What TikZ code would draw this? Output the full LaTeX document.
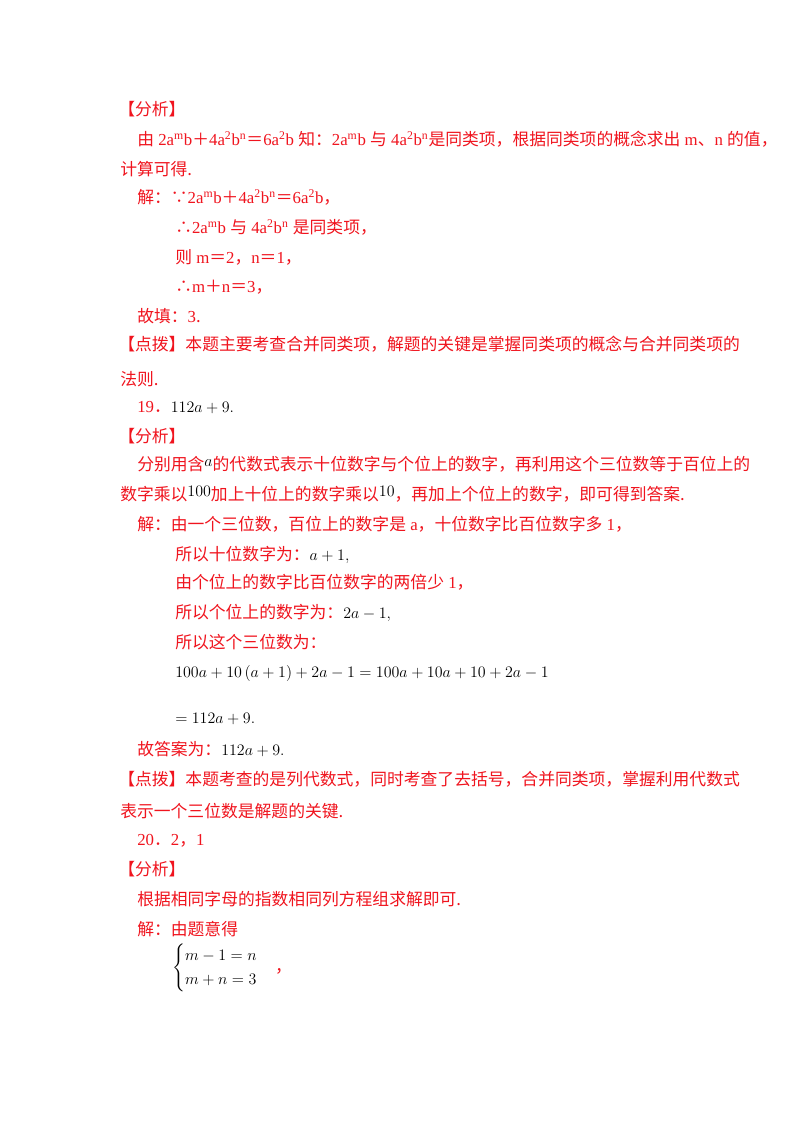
\documentclass[tikz,border=0pt]{standalone}
\usepackage{amsmath}
\usepackage{fontspec}
\setmainfont{Noto Sans CJK SC}
\newfontfamily\lat{Liberation Serif}
\definecolor{rd}{RGB}{240,20,30}
\newcommand{\Lt}[1]{{\lat #1}}
\newcommand{\sups}[1]{\textsuperscript{\lat #1}}
\newcommand{\mth}[1]{{\color{black}$#1$}}
\begin{document}
\begin{tikzpicture}[x=0.75pt,y=-0.75pt,
  t/.style={anchor=base west,inner sep=0pt,text=rd,font=\fontsize{12.6}{15}\selectfont}]
\useasboundingbox[fill=white] (0,0) rectangle (800,1132);
\node[t] (l1) at (118,115) {【分析】};
\node[t] (l2) at (137,145) {由\Lt{ 2a\sups{m}b}＋\Lt{4a\sups{2}b\sups{n}}＝\Lt{6a\sups{2}b }知：\Lt{2a\sups{m}b }与\Lt{ 4a\sups{2}b\sups{n}}是同类项，根据同类项的概念求出\Lt{ m}、\Lt{n }的值，};
\node[t] (l3) at (120,175) {计算可得.};
\node[t] (l4) at (137,203) {解：∵\Lt{2a\sups{m}b}＋\Lt{4a\sups{2}b\sups{n}}＝\Lt{6a\sups{2}b}，};
\node[t] (l5) at (175,233) {∴\Lt{2a\sups{m}b }与\Lt{ 4a\sups{2}b\sups{n} }是同类项，};
\node[t] (l6) at (175,263) {则\Lt{ m}＝\Lt{2}，\Lt{n}＝\Lt{1}，};
\node[t] (l7) at (175,292) {∴\Lt{m}＋\Lt{n}＝\Lt{3}，};
\node[t] (l8) at (137,322) {故填：\Lt{3}.};
\node[t] (l9) at (118,350) {【点拨】本题主要考查合并同类项，解题的关键是掌握同类项的概念与合并同类项的};
\node[t] (l10) at (120,385) {法则.};
\node[t] (l11) at (137,412) {\Lt{19}．\mth{112a+9.}};
\node[t] (l12) at (118,442) {【分析】};
\node[t] (l13) at (137,470) {分别用含\raisebox{3pt}{\mth{a}}的代数式表示十位数字与个位上的数字，再利用这个三位数等于百位上的};
\node[t] (l14) at (120,500) {数字乘以\raisebox{3pt}{\mth{100}}加上十位上的数字乘以\raisebox{3pt}{\mth{10}}，再加上个位上的数字，即可得到答案.};
\node[t] (l15) at (137,530) {解：由一个三位数，百位上的数字是\Lt{ a}，十位数字比百位数字多\Lt{ 1}，};
\node[t] (l16) at (175,560) {所以十位数字为：\mth{a+1,}};
\node[t] (l17) at (175,588) {由个位上的数字比百位数字的两倍少\Lt{ 1}，};
\node[t] (l18) at (175,618) {所以个位上的数字为：\mth{2a-1,}};
\node[t] (l19) at (175,648) {所以这个三位数为：};
\node[t] (l20) at (175,677) {\mth{100a+10\left(a+1\right)+2a-1=100a+10a+10+2a-1}};
\node[t] (l21) at (175,723) {\mth{=112a+9.}};
\node[t] (l22) at (137,755) {故答案为：\mth{112a+9.}};
\node[t] (l23) at (118,785) {【点拨】本题考查的是列代数式，同时考查了去括号，合并同类项，掌握利用代数式};
\node[t] (l24) at (120,817) {表示一个三位数是解题的关键.};
\node[t] (l25) at (137,845) {\Lt{20}．\Lt{2}，\Lt{1}};
\node[t] (l26) at (118,875) {【分析】};
\node[t] (l27) at (137,905) {根据相同字母的指数相同列方程组求解即可.};
\node[t] (l28) at (137,935) {解：由题意得};
\node[t,text=black] (l29) at (172,972) {$\begin{cases} m-1=n\\ m+n=3\end{cases}$\textcolor{rd}{，}};
\end{tikzpicture}
\end{document}
